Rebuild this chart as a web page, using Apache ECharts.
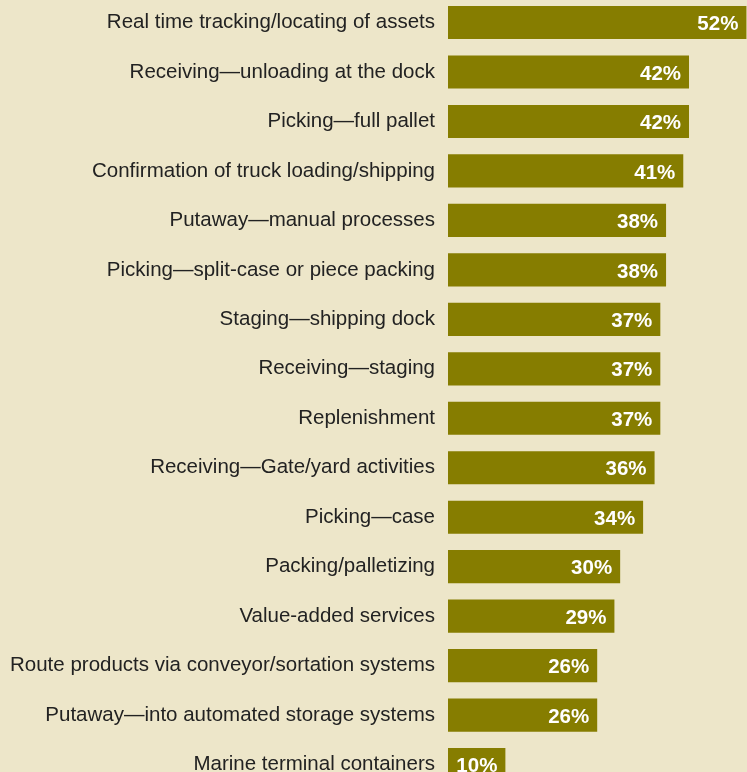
<!DOCTYPE html>
<html>
<head>
<meta charset="utf-8">
<style>
  html, body { margin: 0; padding: 0; background: #ede6c9; }
  #chart { width: 747px; height: 772px; }
</style>
<script src="https://cdn.jsdelivr.net/npm/echarts@6/dist/echarts.min.js"></script>
</head>
<body>
<div id="chart"></div>
<script>
// Warehouse activities, share of respondents (%)
const categories = [
  "Real time tracking/locating of assets",
  "Receiving\u2014unloading at the dock",
  "Picking\u2014full pallet",
  "Confirmation of truck loading/shipping",
  "Putaway\u2014manual processes",
  "Picking\u2014split-case or piece packing",
  "Staging\u2014shipping dock",
  "Receiving\u2014staging",
  "Replenishment",
  "Receiving\u2014Gate/yard activities",
  "Picking\u2014case",
  "Packing/palletizing",
  "Value-added services",
  "Route products via conveyor/sortation systems",
  "Putaway\u2014into automated storage systems",
  "Marine terminal containers"
];
const values = [52, 42, 42, 41, 38, 38, 37, 37, 37, 36, 34, 30, 29, 26, 26, 10];

const chart = echarts.init(document.getElementById('chart'), null, { renderer: 'canvas' });
chart.setOption({
  backgroundColor: '#ede6c9',
  animation: false,
  grid: {
    left: 448, top: -2.2, width: 298.4, height: 791.5,
    containLabel: false,
    outerBoundsMode: 'none'
  },
  xAxis: {
    type: 'value', min: 0, max: 52,
    show: false
  },
  yAxis: {
    type: 'category',
    data: categories,
    inverse: true,
    axisLine: { show: false },
    axisTick: { show: false },
    axisLabel: {
      margin: 13,
      color: '#222222',
      fontFamily: 'Liberation Sans, Arial, sans-serif',
      fontSize: 20.5
    }
  },
  series: [{
    type: 'bar',
    data: values,
    barCategoryGap: '33%',
    itemStyle: { color: '#867d00' },
    label: {
      show: true,
      position: 'insideRight',
      distance: 8,
      offset: [0, 2],
      formatter: '{c}%',
      color: '#ffffff',
      fontWeight: 'bold',
      fontFamily: 'Liberation Sans, Arial, sans-serif',
      fontSize: 20.5
    }
  }]
});
</script>
</body>
</html>
